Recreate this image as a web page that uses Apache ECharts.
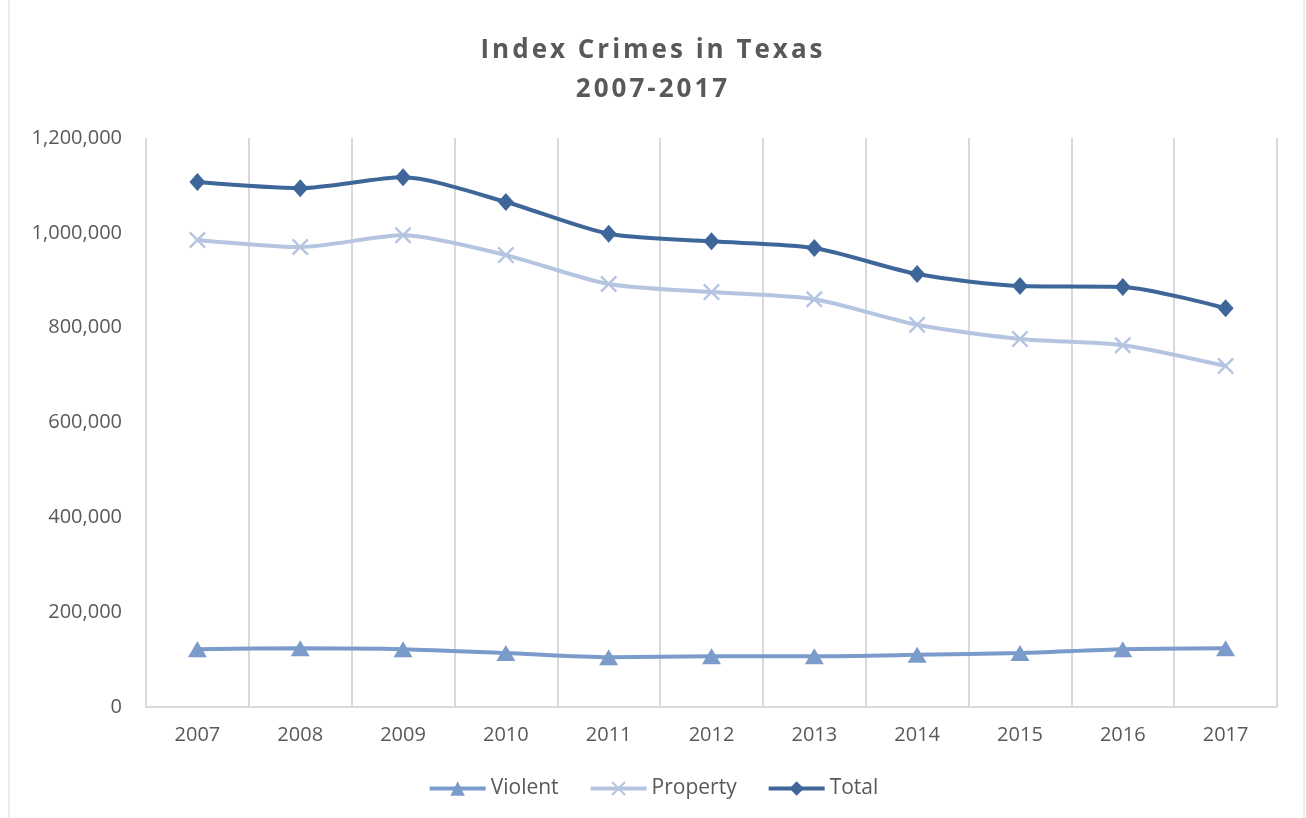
<!DOCTYPE html>
<html>
<head>
<meta charset="utf-8">
<script src="https://cdn.jsdelivr.net/npm/echarts@6/dist/echarts.min.js"></script>
<style>
  html, body { margin: 0; padding: 0; background: #fff; }
  #wrap { position: relative; width: 1306px; height: 818px; }
  #chart { width: 1306px; height: 818px; }
  /* title kept as html so it can get the letter spacing of the original */
  #title {
    position: absolute; left: 0; top: 29px; width: 1306px;
    text-align: center; color: #595959;
    font: bold 26px/39px 'Open Sans', sans-serif;
    letter-spacing: 3px;
    pointer-events: none;
  }
</style>
</head>
<body>
<div id="wrap">
  <div id="chart"></div>
  <div id="title">Index Crimes in Texas<br>2007-2017</div>
</div>
<script>
// data
var years = ['2007', '2008', '2009', '2010', '2011', '2012', '2013', '2014', '2015', '2016', '2017']
var violent = [122000, 124000, 122000, 114000, 105000, 107000, 107000, 110000, 114000, 122000, 124000]
var property = [985000, 970000, 995000, 953000, 892000, 875000, 860000, 806000, 776000, 763000, 719000]
var total = [1107000, 1094000, 1117000, 1065000, 998000, 982000, 968000, 913000, 888000, 886000, 841000]
var yTicks = { min: 0, max: 1200000, interval: 200000 }

var crossPath = 'path://M0,1L1,0L5,4L9,0L10,1L6,5L10,9L9,10L5,6L1,10L0,9L4,5Z'
var gray = '#595959'

var chart = echarts.init(document.getElementById('chart'))
chart.setOption({
  animation: false,
  textStyle: { fontFamily: 'Open Sans' },
  graphic: [{
    type: 'rect',
    shape: { x: 9, y: -2, width: 1295, height: 822 },
    style: { fill: 'none', stroke: '#d9d9d9', lineWidth: 1 },
    silent: true
  }],
  grid: { left: 146, right: 29, top: 138, bottom: 111 },
  legend: {
    bottom: 14,
    left: 'center',
    itemWidth: 56,
    itemHeight: 18,
    itemGap: 30,
    lineStyle: { width: 4 },
    textStyle: { color: gray, fontSize: 21 },
    data: ['Violent', 'Property', 'Total']
  },
  xAxis: {
    type: 'category',
    data: years,
    boundaryGap: true,
    axisLine: { lineStyle: { color: '#d9d9d9', width: 2 } },
    axisTick: { show: false },
    splitLine: { show: true, lineStyle: { color: '#d9d9d9', width: 2 } },
    axisLabel: { color: gray, fontSize: 20, margin: 18 }
  },
  yAxis: {
    type: 'value',
    min: yTicks.min,
    max: yTicks.max,
    interval: yTicks.interval,
    axisLine: { show: false },
    axisTick: { show: false },
    splitLine: { show: false },
    axisLabel: {
      color: gray,
      fontSize: 20,
      margin: 24,
      formatter: function (v) { return v.toLocaleString('en-US') }
    }
  },
  series: [{
    name: 'Violent',
    type: 'line',
    data: violent,
    smooth: 0.25,
    symbol: 'triangle',
    symbolSize: [19, 16],
    lineStyle: { color: '#7b9bcb', width: 4 },
    itemStyle: { color: '#7b9bcb' }
  }, {
    name: 'Property',
    type: 'line',
    data: property,
    smooth: 0.25,
    symbol: crossPath,
    symbolSize: 17,
    lineStyle: { color: '#b5c5e1', width: 4 },
    itemStyle: { color: '#b5c5e1' }
  }, {
    name: 'Total',
    type: 'line',
    data: total,
    smooth: 0.25,
    symbol: 'diamond',
    symbolSize: [16, 18],
    lineStyle: { color: '#3e6699', width: 4 },
    itemStyle: { color: '#3e6699' }
  }]
})
</script>
</body>
</html>
